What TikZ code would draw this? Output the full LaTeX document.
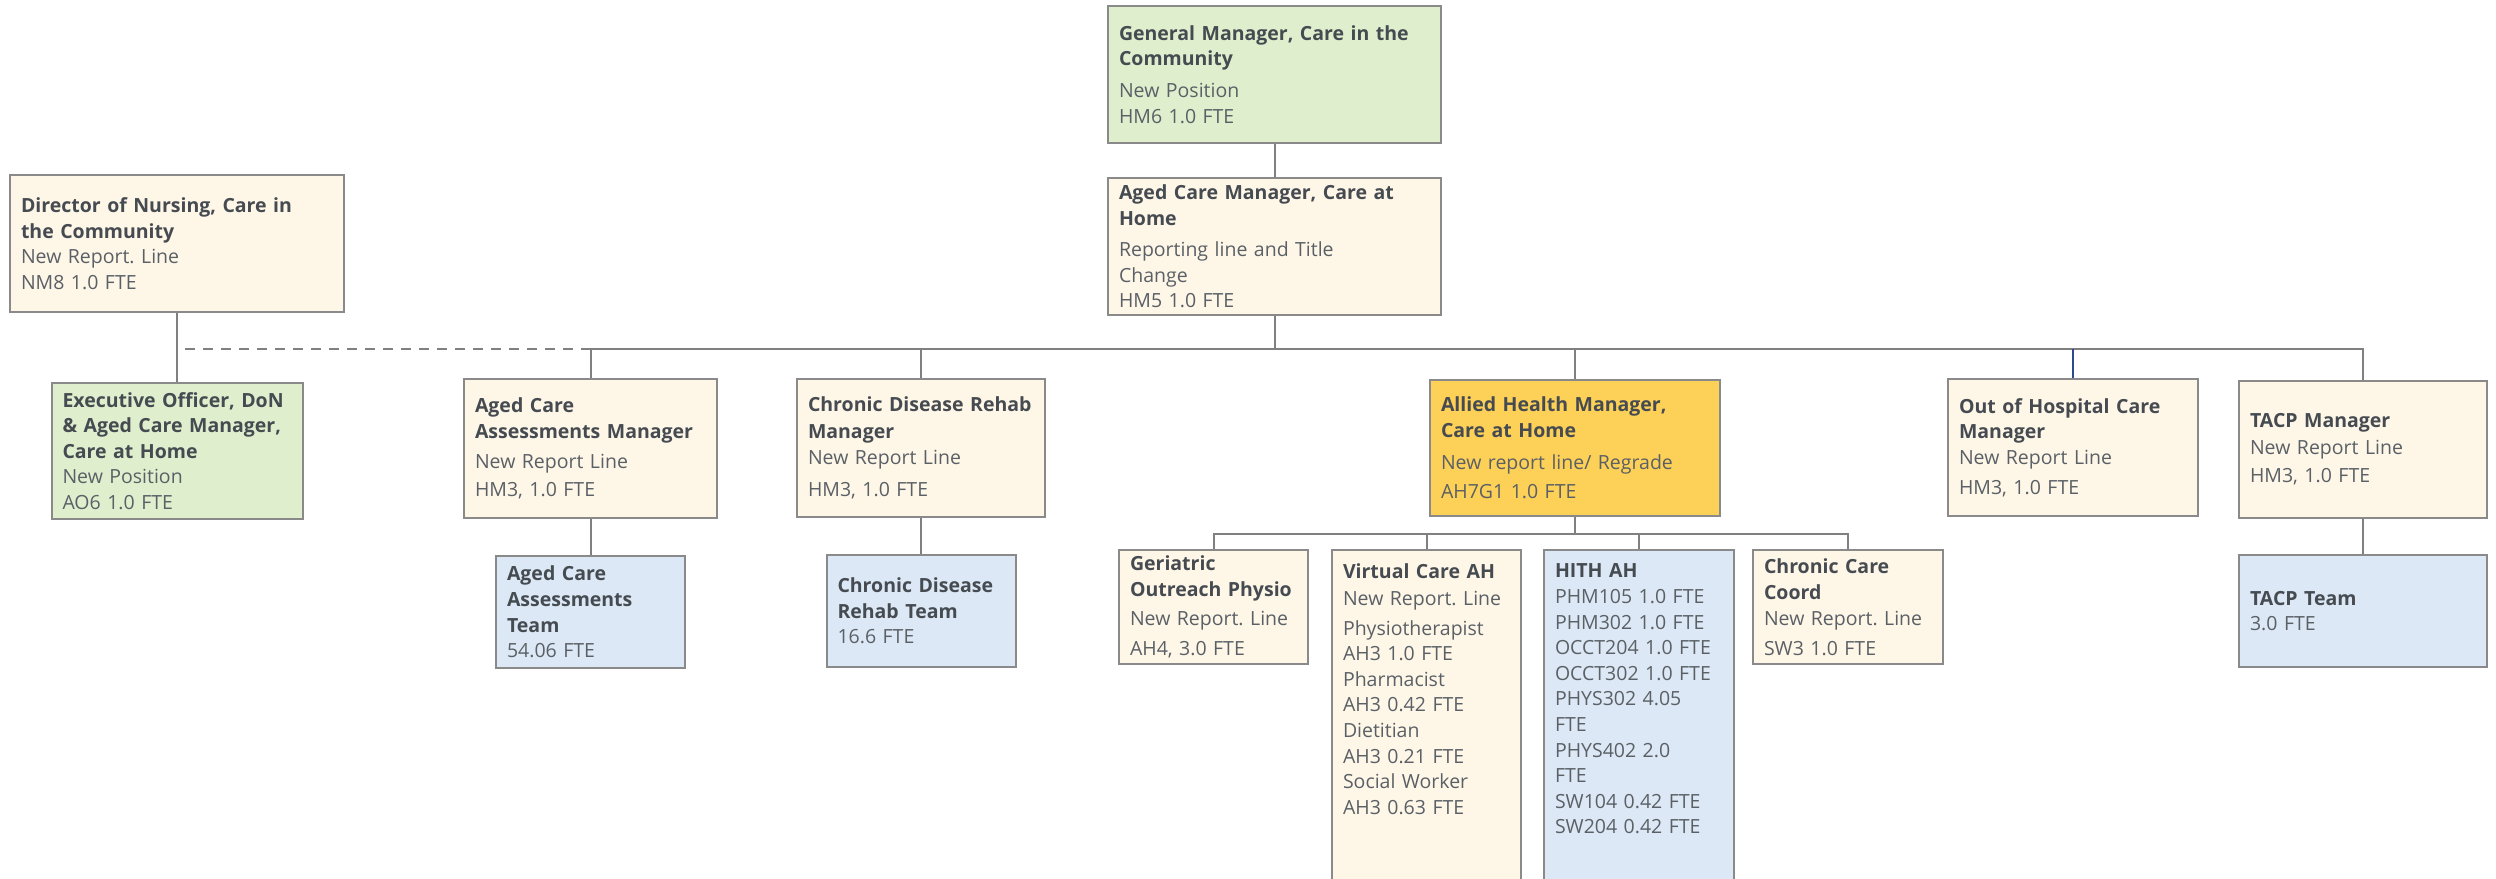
\documentclass[tikz,border=0pt]{standalone}
\usepackage{fontspec}
\setmainfont{Open Sans}
\usepackage{xcolor}
\usepackage{tikz}
\usetikzlibrary{positioning}
\frenchspacing

\definecolor{titlegray}{HTML}{454B51}
\definecolor{bodygray}{HTML}{5A6066}
\definecolor{framegray}{HTML}{8A8A8A}
\definecolor{linkgray}{HTML}{808080}
\definecolor{newgreen}{HTML}{DFEFCE}
\definecolor{cream}{HTML}{FEF7E8}
\definecolor{teamblue}{HTML}{DCE8F5}
\definecolor{regrade}{HTML}{FDD057}
\definecolor{navyline}{HTML}{2E4A8C}

\newcommand{\role}[1]{{\color{titlegray}\bfseries #1}}

\begin{document}
\begin{tikzpicture}[
			x=1pt, y=-1pt,
			node distance=35pt,
			every node/.style={font=\fontsize{19.5}{25.6}\selectfont, text=bodygray},
			unit/.style={
				rectangle, draw=framegray, line width=2pt,
				align=left, inner xsep=11pt, inner ysep=2pt
			},
			newpos/.style={unit, fill=newgreen},
			change/.style={unit, fill=cream},
			team/.style={unit, fill=teamblue},
			regraded/.style={unit, fill=regrade},
			tall/.style={anchor=north west, inner ysep=14pt, text depth=340pt},
			link/.style={draw=linkgray, line width=2pt},
			dashlink/.style={draw=linkgray, line width=2pt, dash pattern=on 10pt off 8pt},
			bluelink/.style={draw=navyline, line width=1.3pt}
			]
			\useasboundingbox (0,0) rectangle (2496,878);
			
			% top of the chart
			\node[newpos, anchor=north west, text width=311pt, minimum height=137pt] (gm) at (1107,5)
				{\role{General Manager, Care in the\\Community}\\[6pt]New Position\\HM6 1.0 FTE};
			\node[change, below=33pt of gm, text width=311pt, minimum height=137pt] (acm)
				{\role{Aged Care Manager, Care at\\Home}\\[6pt]Reporting line and Title\\Change\\HM5 1.0 FTE};
			\node[change, anchor=north west, text width=312pt, minimum height=137pt] (don) at (9,174)
				{\role{Director of Nursing, Care in\\the Community}\\New Report. Line\\NM8 1.0 FTE};
			\node[newpos, below=69pt of don, text width=229pt, minimum height=136pt] (eo)
				{\role{Executive Officer, DoN\\\& Aged Care Manager,\\Care at Home}\\New Position\\AO6 1.0 FTE};
			
			% managers on the bus
			\node[change, anchor=north west, text width=231pt, minimum height=139pt] (acam) at (463,378)
				{\role{Aged Care\\Assessments Manager}\\[5pt]New Report Line\\[2pt]HM3, 1.0 FTE};
			\node[change, anchor=north west, text width=226pt, minimum height=138pt] (cdrm) at (796,378)
				{\role{Chronic Disease Rehab\\[1pt]Manager}\\[1pt]New Report Line\\[6pt]HM3, 1.0 FTE};
			\node[regraded, anchor=north west, text width=268pt, minimum height=136pt] (ahm) at (1429,379)
				{\role{Allied Health Manager,\\Care at Home}\\[6pt]New report line/ Regrade\\[4pt]AH7G1 1.0 FTE};
			\node[change, anchor=north west, text width=228pt, minimum height=137pt] (ooh) at (1947,378)
				{\role{Out of Hospital Care\\Manager}\\New Report Line\\[4pt]HM3, 1.0 FTE};
			\node[change, anchor=north west, text width=226pt, minimum height=137pt] (tacpm) at (2238,380)
				{\role{TACP Manager}\\[1pt]New Report Line\\[3pt]HM3, 1.0 FTE};
			
			% teams
			\node[team, below=36pt of acam, text width=167pt, minimum height=112pt] (acat)
				{\role{Aged Care\\Assessments\\Team}\\54.06 FTE};
			\node[team, below=36pt of cdrm, text width=167pt, minimum height=112pt] (cdrt)
				{\role{Chronic Disease\\Rehab Team}\\16.6 FTE};
			\node[team, below=35pt of tacpm, text width=226pt, minimum height=112pt] (tacpt)
				{\role{TACP Team}\\3.0 FTE};
			
			% allied health units
			\node[change, anchor=north west, text width=167pt, minimum height=114pt] (gop) at (1118,549)
				{\role{Geriatric\\Outreach Physio}\\[4pt]New Report. Line\\[4pt]AH4, 3.0 FTE};
			\node[change, tall, text width=167pt] (vcah) at (1331,549)
				{\role{Virtual Care AH}\\[1pt]New Report. Line\\[4pt]Physiotherapist\\AH3 1.0 FTE\\Pharmacist\\AH3 0.42 FTE\\Dietitian\\AH3 0.21 FTE\\Social Worker\\AH3 0.63 FTE};
			\node[team, tall, text width=168pt] (hith) at (1543,549)
				{\role{HITH AH}\\PHM105 1.0 FTE\\PHM302 1.0 FTE\\OCCT204 1.0 FTE\\OCCT302 1.0 FTE\\PHYS302 4.05\\FTE\\PHYS402 2.0\\FTE\\SW104 0.42 FTE\\SW204 0.42 FTE};
			\node[change, anchor=north west, text width=168pt, minimum height=114pt] (ccc) at (1752,549)
				{\role{Chronic Care\\[1pt]Coord}\\New Report. Line\\[4pt]SW3 1.0 FTE};
			
			% reporting lines
			\coordinate (hub) at ([yshift=-33pt]acm.south);
			\draw[dashlink] (hub) -- (hub -| don.south);
			\draw[link] (don) -- (eo);
			\draw[link] (gm) -- (acm);
			\draw[link] (acm.south) -- (hub);
			\foreach \n in {acam,cdrm,ahm,tacpm}
				\draw[link] (hub) -| (\n.north);
			\draw[bluelink] (ooh.north) -- (ooh.north |- hub);
			\draw[link] (acam) -- (acat);
			\draw[link] (cdrm) -- (cdrt);
			\draw[link] (tacpm) -- (tacpt);
			
			\coordinate (ahhub) at ([yshift=-17pt]ahm.south);
			\draw[link] (ahm.south) -- (ahhub);
			\foreach \n in {gop,vcah,hith,ccc}
				\draw[link] (ahhub) -| (\n.north);
		\end{tikzpicture}
\end{document}
